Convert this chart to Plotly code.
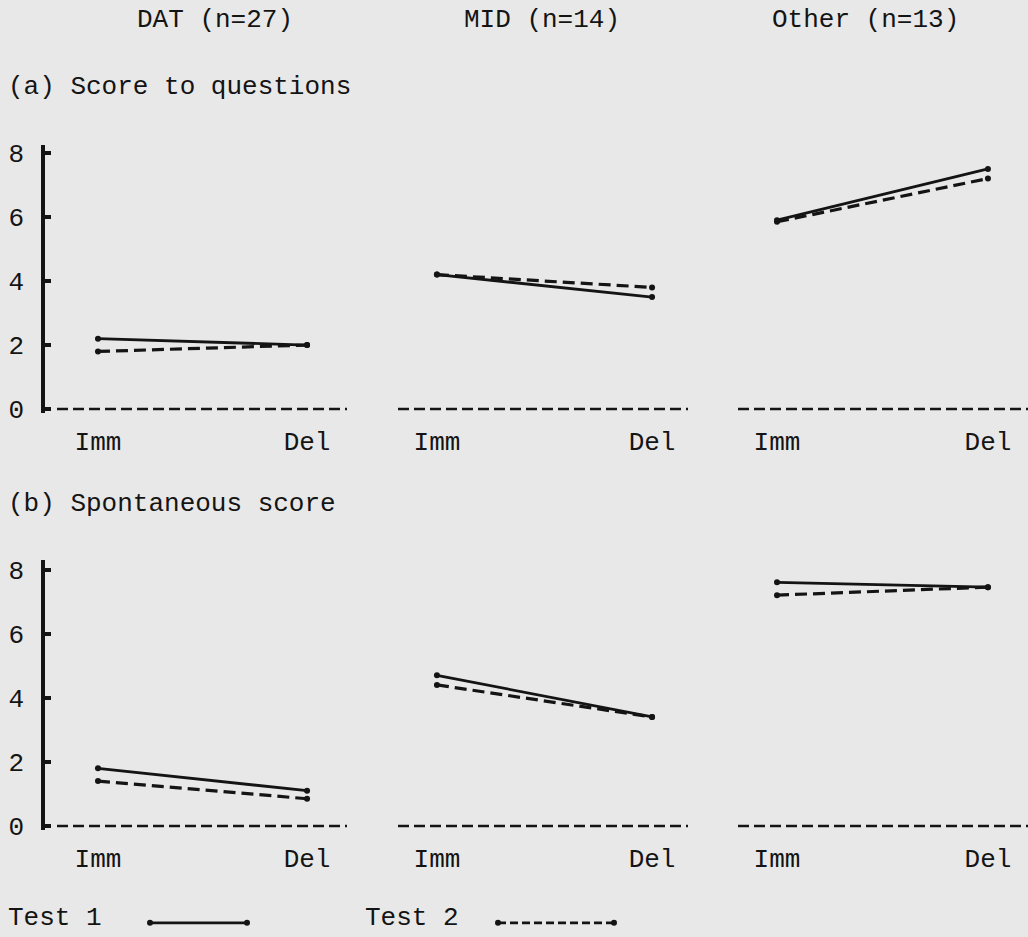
import plotly.graph_objects as go

# ---- data -------------------------------------------------------------
TIMES = ["Imm", "Del"]
GROUPS = ["DAT (n=27)", "MID (n=14)", "Other (n=13)"]
PANELS = ["(a) Score to questions", "(b) Spontaneous score"]
Y_TICKS = [0, 2, 4, 6, 8]

# (a) score to questions, per group: [Imm, Del]
a_test1 = {"DAT": [2.2, 2.0], "MID": [4.2, 3.5], "Other": [5.9, 7.5]}
a_test2 = {"DAT": [1.8, 2.0], "MID": [4.2, 3.8], "Other": [5.85, 7.2]}

# (b) spontaneous score, per group: [Imm, Del]
b_test1 = {"DAT": [1.8, 1.1], "MID": [4.7, 3.4], "Other": [7.6, 7.45]}
b_test2 = {"DAT": [1.4, 0.85], "MID": [4.4, 3.4], "Other": [7.2, 7.45]}

# ---- layout helpers ---------------------------------------------------
W, H = 1028, 937
FONT = "Liberation Mono, Courier New, monospace"
FSIZE = 26
INK = "#141414"
PAPER = "#e8e8e8"


def px_x(p):
    return p / W


def px_y(p):
    # vertical pixel position -> paper fraction (with a small stretch)
    return 1 - ((p - 3) / 0.981) / H


# column domains (pixels) and category ranges
col_domains = [(57, 347), (398, 688), (738, 1028)]
col_ranges = [(-0.196, 1.191), (-0.181, 1.167), (-0.185, 1.19)]
# y domains in pixels (bottom, top); a little room below zero so the
# dashed zero line is not cut by the plot area
row_domains = [(411, 143), (828, 558)]
row_ranges = [(-0.12, 8.25), (-0.12, 8.3)]

fig = go.Figure()

rows = [(a_test1, a_test2), (b_test1, b_test2)]
keys = ["DAT", "MID", "Other"]

for r, (t1, t2) in enumerate(rows):
    yref = "y" if r == 0 else "y2"
    for c, key in enumerate(keys):
        idx = r * 3 + c + 1
        xref = "x" if idx == 1 else f"x{idx}"
        # dashed zero baseline under each group
        fig.add_shape(type="line", xref=f"{xref} domain", yref=yref,
                      x0=0, x1=1, y0=0, y1=0, layer="above",
                      line=dict(color=INK, width=2.6, dash="11px,5px"))
        fig.add_trace(go.Scatter(
            x=TIMES, y=t1[key], mode="lines+markers", name="Test 1",
            xaxis=xref, yaxis=yref, showlegend=False, cliponaxis=False,
            line=dict(color=INK, width=2.8),
            marker=dict(color=INK, size=6),
        ))
        fig.add_trace(go.Scatter(
            x=TIMES, y=t2[key], mode="lines+markers", name="Test 2",
            xaxis=xref, yaxis=yref, showlegend=False, cliponaxis=False,
            line=dict(color=INK, width=3.2, dash="12px,6px"),
            marker=dict(color=INK, size=6),
        ))

layout = dict(
    width=W, height=H,
    margin=dict(l=0, r=0, t=0, b=0),
    paper_bgcolor=PAPER, plot_bgcolor="rgba(0,0,0,0)",
    font=dict(family=FONT, size=FSIZE, color=INK),
    showlegend=False,
)

for r in range(2):
    for c in range(3):
        idx = r * 3 + c + 1
        name = "xaxis" if idx == 1 else f"xaxis{idx}"
        d0, d1 = col_domains[c]
        layout[name] = dict(
            domain=[px_x(d0), px_x(d1)],
            type="category", range=list(col_ranges[c]),
            anchor="y" if r == 0 else "y2",
            showline=False, showgrid=False, zeroline=False,
            ticks="", tickvals=TIMES, ticktext=TIMES,
            ticklabelstandoff=10,
            tickfont=dict(family=FONT, size=FSIZE, color=INK),
        )
    p0, p1 = row_domains[r]
    yname = "yaxis" if r == 0 else "yaxis2"
    layout[yname] = dict(
        domain=[px_y(p0), px_y(p1)],
        range=list(row_ranges[r]),
        anchor="free", position=px_x(43),
        showline=True, linecolor=INK, linewidth=3.5,
        showgrid=False, zeroline=False,
        tickvals=Y_TICKS, ticks="inside", ticklen=6, tickwidth=4,
        tickcolor=INK, ticklabelstandoff=12,
        tickfont=dict(family=FONT, size=FSIZE, color=INK),
    )

fig.update_layout(**layout)

# group headers
for g, cx in zip(GROUPS, [215, 542, 865]):
    fig.add_annotation(text=g, x=px_x(cx), y=px_y(18), xref="paper", yref="paper",
                       xanchor="center", yanchor="middle", showarrow=False)

# panel titles
for t, py in zip(PANELS, [85, 502]):
    fig.add_annotation(text=t, x=px_x(6), y=px_y(py), xref="paper", yref="paper",
                       xanchor="left", yanchor="middle", showarrow=False)

# key: label followed by a sample line with end dots
key_items = [("Test 1", 6, (150, 247), None), ("Test 2", 363, (498, 614), "8px,4px")]
for label, tx, (l0, l1), dash in key_items:
    fig.add_annotation(text=label, x=px_x(tx), y=px_y(916), xref="paper", yref="paper",
                       xanchor="left", yanchor="middle", showarrow=False)
    fig.add_shape(type="line", xref="paper", yref="paper",
                  x0=px_x(l0), x1=px_x(l1), y0=px_y(921), y1=px_y(921),
                  line=dict(color=INK, width=2.8, dash=dash or "solid"))
    for lx in (l0, l1):
        fig.add_shape(type="circle", xref="paper", yref="paper",
                      x0=px_x(lx - 3), x1=px_x(lx + 3), y0=px_y(924), y1=px_y(918),
                      fillcolor=INK, line=dict(color=INK, width=0))

fig.write_html("out.html")
